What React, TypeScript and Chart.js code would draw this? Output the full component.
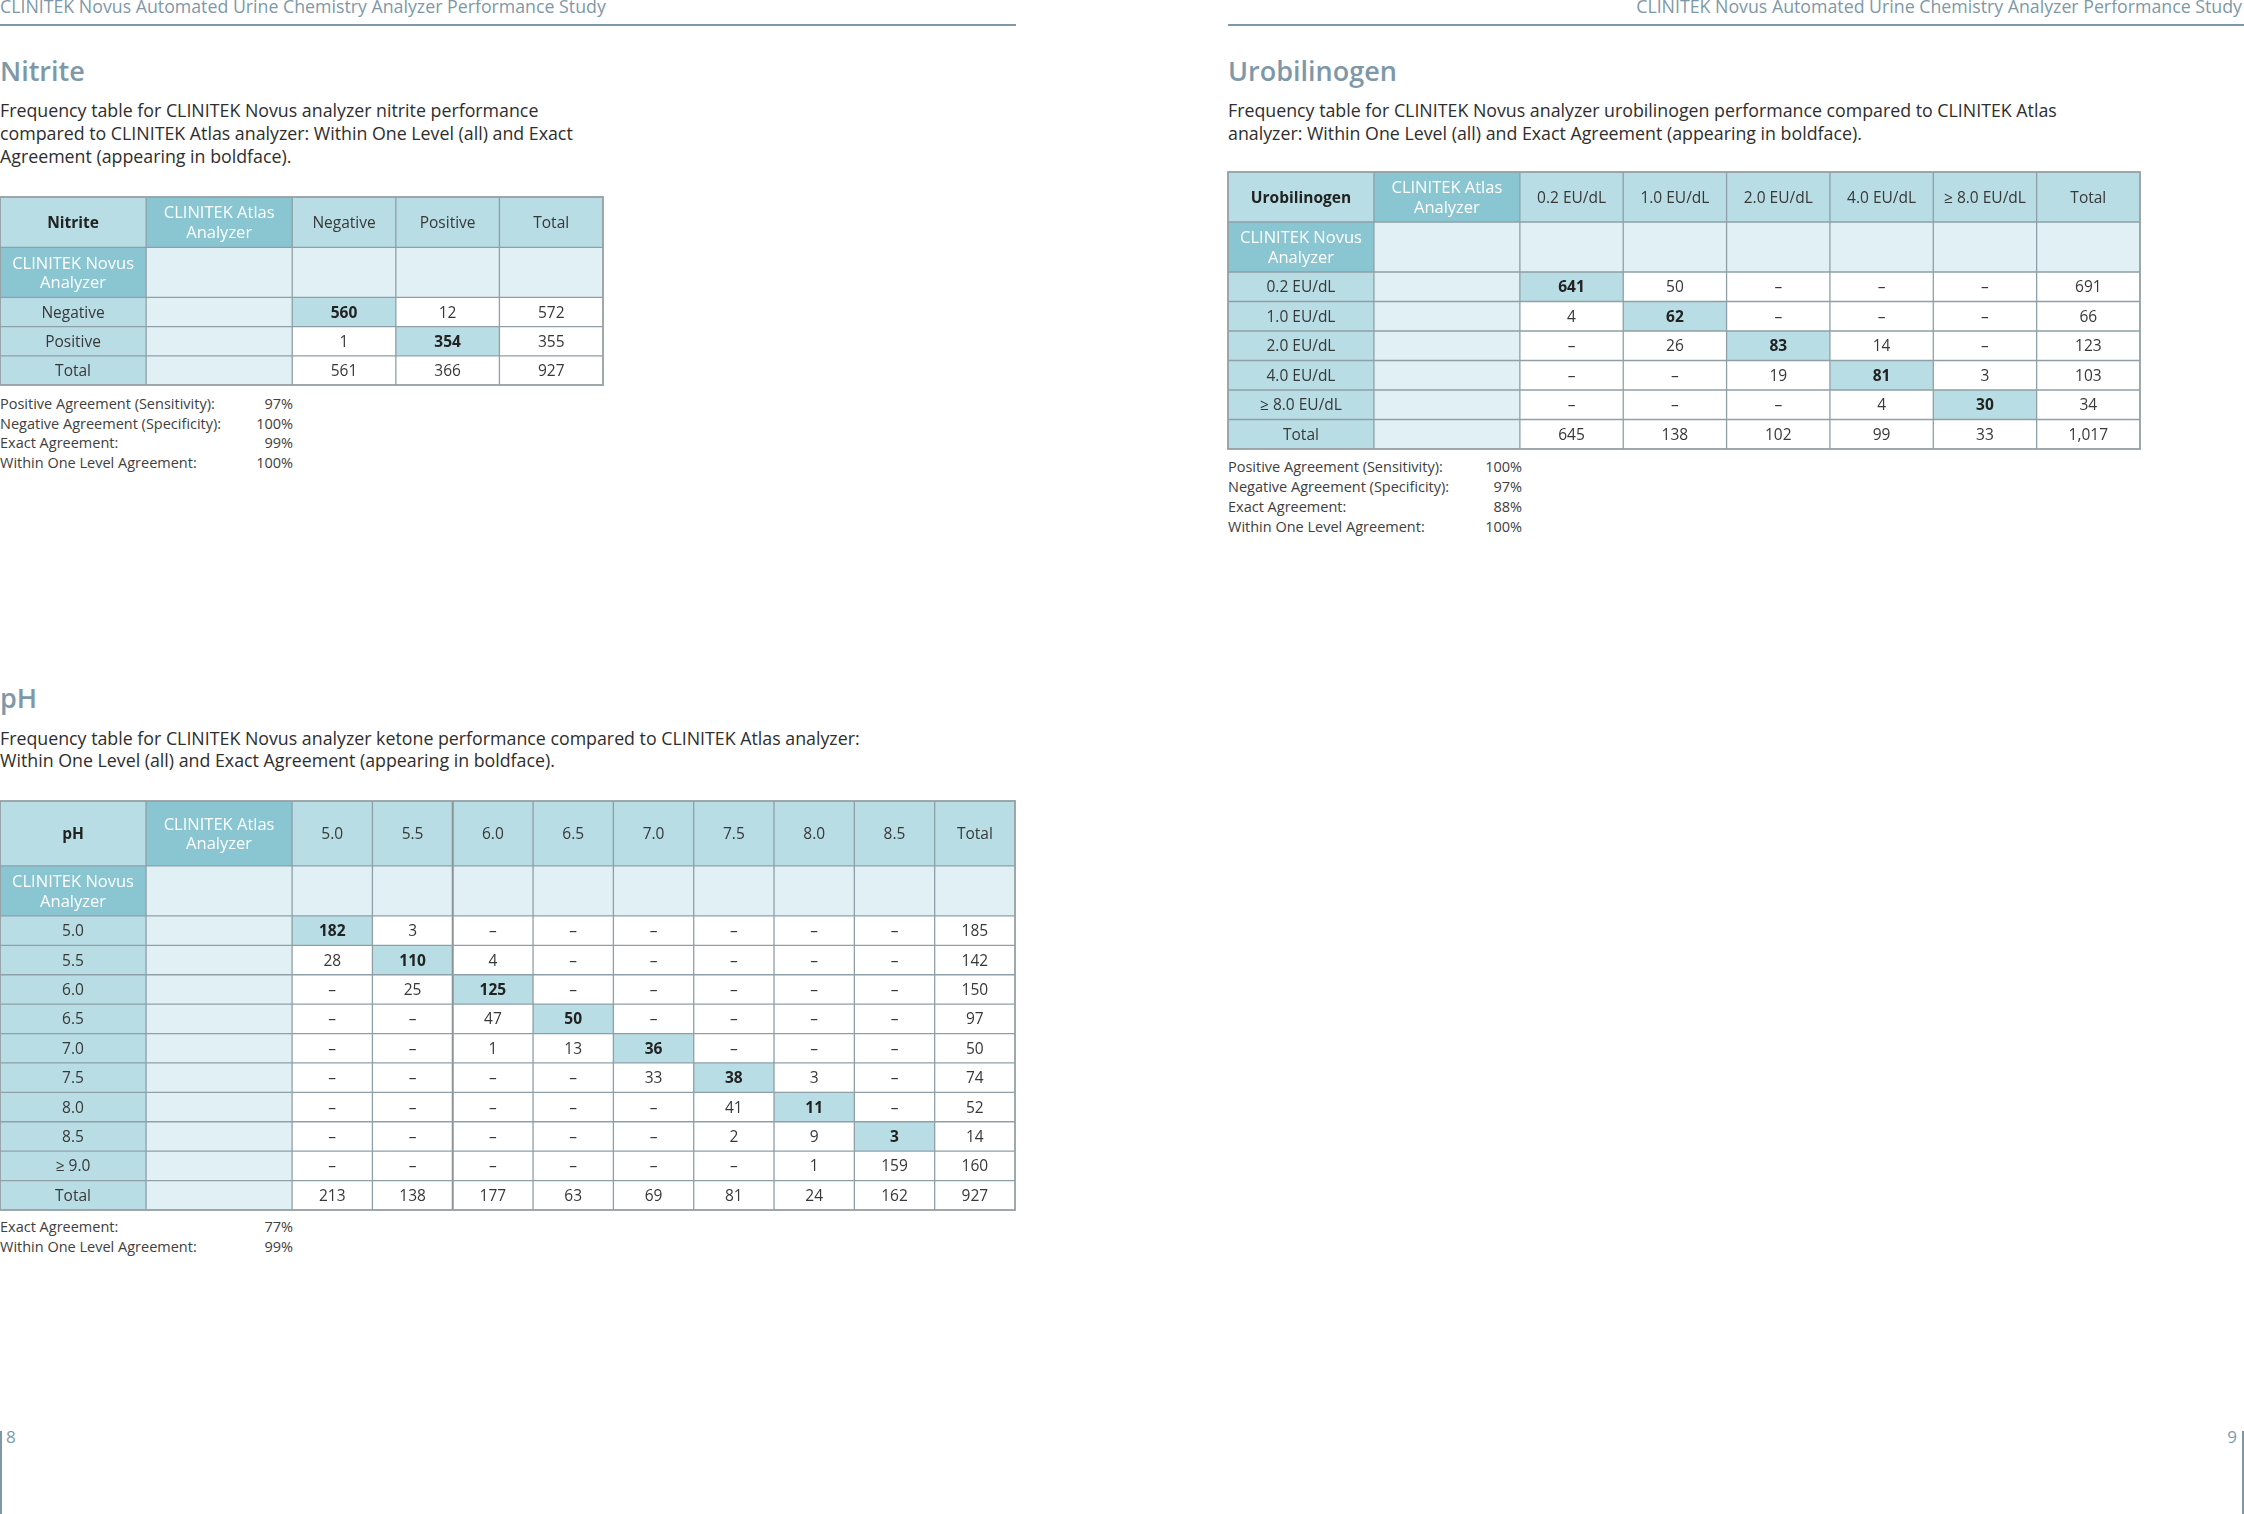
import React, { useEffect, useRef } from "react";
import { Chart, registerables } from "chart.js";

Chart.register(...registerables);

// ---------------- Data ----------------
const pageHeader = "CLINITEK Novus Automated Urine Chemistry Analyzer Performance Study";
const atlasLabel = "CLINITEK Atlas\nAnalyzer";
const novusLabel = "CLINITEK Novus\nAnalyzer";

const nitriteTitle = "Nitrite";
const nitriteDescription = [
  "Frequency table for CLINITEK Novus analyzer nitrite performance",
  "compared to CLINITEK Atlas analyzer: Within One Level (all) and Exact",
  "Agreement (appearing in boldface).",
];
const nitriteColumns = ["Negative", "Positive", "Total"];
const nitriteRows = ["Negative", "Positive", "Total"];
const nitriteValues: (number | null)[][] = [
  [560, 12, 572],
  [1, 354, 355],
  [561, 366, 927],
];
const nitriteStatLabels = [
  "Positive Agreement (Sensitivity):",
  "Negative Agreement (Specificity):",
  "Exact Agreement:",
  "Within One Level Agreement:",
];
const nitriteStatValues = ["97%", "100%", "99%", "100%"];

const urobilTitle = "Urobilinogen";
const urobilDescription = [
  "Frequency table for CLINITEK Novus analyzer urobilinogen performance compared to CLINITEK Atlas",
  "analyzer: Within One Level (all) and Exact Agreement (appearing in boldface).",
];
const urobilColumns = ["0.2 EU/dL", "1.0 EU/dL", "2.0 EU/dL", "4.0 EU/dL", "≥ 8.0 EU/dL", "Total"];
const urobilRows = ["0.2 EU/dL", "1.0 EU/dL", "2.0 EU/dL", "4.0 EU/dL", "≥ 8.0 EU/dL", "Total"];
const urobilValues: (number | null)[][] = [
  [641, 50, null, null, null, 691],
  [4, 62, null, null, null, 66],
  [null, 26, 83, 14, null, 123],
  [null, null, 19, 81, 3, 103],
  [null, null, null, 4, 30, 34],
  [645, 138, 102, 99, 33, 1017],
];
const urobilStatLabels = [
  "Positive Agreement (Sensitivity):",
  "Negative Agreement (Specificity):",
  "Exact Agreement:",
  "Within One Level Agreement:",
];
const urobilStatValues = ["100%", "97%", "88%", "100%"];

const phTitle = "pH";
const phDescription = [
  "Frequency table for CLINITEK Novus analyzer ketone performance compared to CLINITEK Atlas analyzer:",
  "Within One Level (all) and Exact Agreement (appearing in boldface).",
];
const phColumns = ["5.0", "5.5", "6.0", "6.5", "7.0", "7.5", "8.0", "8.5", "Total"];
const phRows = ["5.0", "5.5", "6.0", "6.5", "7.0", "7.5", "8.0", "8.5", "≥ 9.0", "Total"];
const phValues: (number | null)[][] = [
  [182, 3, null, null, null, null, null, null, 185],
  [28, 110, 4, null, null, null, null, null, 142],
  [null, 25, 125, null, null, null, null, null, 150],
  [null, null, 47, 50, null, null, null, null, 97],
  [null, null, 1, 13, 36, null, null, null, 50],
  [null, null, null, null, 33, 38, 3, null, 74],
  [null, null, null, null, null, 41, 11, null, 52],
  [null, null, null, null, null, 2, 9, 3, 14],
  [null, null, null, null, null, null, 1, 159, 160],
  [213, 138, 177, 63, 69, 81, 24, 162, 927],
];
const phStatLabels = ["Exact Agreement:", "Within One Level Agreement:"];
const phStatValues = ["77%", "99%"];

// ---------------- Styles ----------------
const FONT = '"Open Sans", "Noto Sans", sans-serif';
const C_TEAL = "#b8dde4";
const C_DARK = "#8ac6d2";
const C_LIGHT = "#e1f0f4";
const C_LINE = "#8e9fa7";
const C_OUTER = "#969fa4";
const C_TEXT = "#383838";
const C_BOLD = "#222222";
const C_ACCENT = "#7e98a8";
const CELL_FS = 15.5;
const WHITE_FS = 16.5;

type Layout = {
  left: number;
  top: number;
  labelW: number;
  dataW: number;
  headH: number;
  subH: number;
  rowH: number;
  splitAfter?: number;
};

type Cell = {
  x: number;
  y: number;
  x0: number;
  x1: number;
  y0: number;
  y1: number;
  text: string;
  bg: string;
  color: string;
  bold: boolean;
  fs: number;
};

const tablePlugin = {
  id: "freqTable",
  beforeDatasetsDraw(chart: any) {
    const { ctx } = chart;
    const xs = chart.scales.x;
    const ys = chart.scales.y;
    const cells: Cell[] = chart.data.datasets[0].data;
    const meta = chart.getDatasetMeta(0);
    const opts = chart.options.plugins.freqTable || {};
    ctx.save();
    cells.forEach((c) => {
      const px0 = xs.getPixelForValue(c.x0);
      const px1 = xs.getPixelForValue(c.x1);
      const py0 = ys.getPixelForValue(c.y0);
      const py1 = ys.getPixelForValue(c.y1);
      ctx.fillStyle = c.bg;
      ctx.fillRect(px0, py0, px1 - px0, py1 - py0);
    });
    const colEdges: number[] = opts.colEdges;
    const rowEdges: number[] = opts.rowEdges;
    const top = ys.getPixelForValue(rowEdges[0]);
    const bottom = ys.getPixelForValue(rowEdges[rowEdges.length - 1]);
    const left = xs.getPixelForValue(colEdges[0]);
    const right = xs.getPixelForValue(colEdges[colEdges.length - 1]);
    colEdges.forEach((e, i) => {
      if (i === 0 || i === colEdges.length - 1) return;
      const px = xs.getPixelForValue(e);
      ctx.beginPath();
      if (opts.splitEdge === i) {
        ctx.strokeStyle = "#8c9397";
        ctx.lineWidth = 2;
      } else {
        ctx.strokeStyle = C_LINE;
        ctx.lineWidth = 1.3;
      }
      ctx.moveTo(px, top);
      ctx.lineTo(px, bottom);
      ctx.stroke();
    });
    ctx.strokeStyle = C_LINE;
    ctx.lineWidth = 1.3;
    rowEdges.forEach((e, i) => {
      if (i === 0 || i === rowEdges.length - 1) return;
      const py = ys.getPixelForValue(e);
      ctx.beginPath();
      ctx.moveTo(left, py);
      ctx.lineTo(right, py);
      ctx.stroke();
    });
    ctx.strokeStyle = C_OUTER;
    ctx.lineWidth = 1.8;
    ctx.strokeRect(left, top, right - left, bottom - top);
    cells.forEach((c, i) => {
      if (!c.text) return;
      const el = meta.data[i];
      const lines = c.text.split("\n");
      ctx.font = `${c.bold ? "bold" : "normal"} ${c.fs}px ${FONT}`;
      ctx.fillStyle = c.color;
      ctx.textAlign = "center";
      ctx.textBaseline = "alphabetic";
      const spacing = 19.5;
      lines.forEach((ln, k) => {
        const cy = el.y + (k - (lines.length - 1) / 2) * spacing;
        ctx.fillText(ln, el.x, cy + 0.357 * c.fs);
      });
    });
    ctx.restore();
  },
};

function cumulative(arr: number[]): number[] {
  const out = [0];
  arr.forEach((v) => out.push(out[out.length - 1] + v));
  return out;
}

function fmt(v: number | null): string {
  return v === null ? "–" : v.toLocaleString("en-US");
}

function FreqTable(props: {
  corner: string;
  columns: string[];
  rows: string[];
  values: (number | null)[][];
  layout: Layout;
}) {
  const { corner, columns, rows, values, layout } = props;
  const ref = useRef<HTMLCanvasElement>(null);
  const PAD = 2;
  const colW = [layout.labelW, layout.labelW, ...columns.map(() => layout.dataW)];
  const rowH = [layout.headH, layout.subH, ...rows.map(() => layout.rowH)];
  const colEdges = cumulative(colW);
  const rowEdges = cumulative(rowH);
  const W = colEdges[colEdges.length - 1];
  const H = rowEdges[rowEdges.length - 1];
  const cw = Math.round(W + 2 * PAD);
  const ch = Math.round(H + 2 * PAD);

  useEffect(() => {
    if (!ref.current) return;
    const nC = colW.length;
    const nR = rowH.length;
    const cells: Cell[] = [];
    for (let r = 0; r < nR; r++) {
      for (let c = 0; c < nC; c++) {
        let text = "";
        let bg = "#ffffff";
        let color = C_TEXT;
        let bold = false;
        let fs = CELL_FS;
        if (r === 0) {
          if (c === 0) {
            text = corner;
            bg = C_TEAL;
            color = C_BOLD;
            bold = true;
          } else if (c === 1) {
            text = atlasLabel;
            bg = C_DARK;
            color = "#ffffff";
            fs = WHITE_FS;
          } else {
            text = columns[c - 2];
            bg = C_TEAL;
          }
        } else if (r === 1) {
          if (c === 0) {
            text = novusLabel;
            bg = C_DARK;
            color = "#ffffff";
            fs = WHITE_FS;
          } else {
            bg = C_LIGHT;
          }
        } else {
          const ri = r - 2;
          if (c === 0) {
            text = rows[ri];
            bg = C_TEAL;
          } else if (c === 1) {
            bg = C_LIGHT;
          } else {
            const ci = c - 2;
            text = fmt(values[ri][ci]);
            const diag = ri === ci && ri < rows.length - 1 && ci < columns.length - 1;
            if (diag) {
              bg = C_TEAL;
              bold = true;
              color = C_BOLD;
            }
          }
        }
        cells.push({
          x: (colEdges[c] + colEdges[c + 1]) / 2,
          y: (rowEdges[r] + rowEdges[r + 1]) / 2,
          x0: colEdges[c],
          x1: colEdges[c + 1],
          y0: rowEdges[r],
          y1: rowEdges[r + 1],
          text,
          bg,
          color,
          bold,
          fs,
        });
      }
    }
    const chart = new Chart(ref.current, {
      type: "scatter",
      data: {
        datasets: [
          {
            data: cells as any,
            pointRadius: 0,
            pointHoverRadius: 0,
            showLine: false,
          },
        ],
      },
      options: {
        animation: false,
        responsive: false,
        maintainAspectRatio: false,
        events: [],
        layout: { padding: PAD },
        plugins: {
          legend: { display: false },
          tooltip: { enabled: false },
          // @ts-ignore
          freqTable: {
            colEdges,
            rowEdges,
            splitEdge: layout.splitAfter !== undefined ? layout.splitAfter + 3 : undefined,
          },
        },
        scales: {
          x: { type: "linear", display: false, min: 0, max: W },
          y: { type: "linear", display: false, min: 0, max: H, reverse: true },
        },
      },
      plugins: [tablePlugin],
    });
    return () => chart.destroy();
  }, []);

  return (
    <canvas
      ref={ref}
      width={cw}
      height={ch}
      style={{ position: "absolute", left: layout.left - PAD, top: layout.top - PAD, width: cw, height: ch }}
    />
  );
}

function topFor(baseline: number, fs: number, lh: number) {
  return baseline - ((lh - 1.362 * fs) / 2 + 1.069 * fs);
}

function Heading({ left, baseline, text }: { left: number; baseline: number; text: string }) {
  const fs = 27;
  return (
    <div
      style={{
        position: "absolute",
        left,
        top: topFor(baseline, fs, fs),
        fontSize: fs,
        lineHeight: `${fs}px`,
        fontWeight: 600,
        color: C_ACCENT,
        whiteSpace: "nowrap",
      }}
    >
      {text}
    </div>
  );
}

function Description({ left, baseline, lines, lh }: { left: number; baseline: number; lines: string[]; lh: number }) {
  const fs = 17.8;
  return (
    <div
      style={{
        position: "absolute",
        left,
        top: topFor(baseline, fs, lh),
        fontSize: fs,
        lineHeight: `${lh}px`,
        color: "#2e2e2e",
        whiteSpace: "nowrap",
      }}
    >
      {lines.map((l, i) => (
        <div key={i}>{l}</div>
      ))}
    </div>
  );
}

function Stats(props: { left: number; baseline: number; valueRight: number; labels: string[]; values: string[]; step: number }) {
  const fs = 14.5;
  const lh = 20;
  return (
    <>
      {props.labels.map((l, i) => (
        <div
          key={i}
          style={{
            position: "absolute",
            left: props.left,
            top: topFor(props.baseline + i * props.step, fs, lh),
            width: props.valueRight - props.left,
            height: lh,
            fontSize: fs,
            lineHeight: `${lh}px`,
            color: "#404040",
            whiteSpace: "nowrap",
          }}
        >
          <span>{l}</span>
          <span style={{ position: "absolute", right: 0, top: 0 }}>{props.values[i]}</span>
        </div>
      ))}
    </>
  );
}

export default function App() {
  const hdrFs = 17.75;
  return (
    <div
      style={{
        position: "absolute",
        left: 0,
        top: 0,
        width: 2244,
        height: 1514,
        overflow: "hidden",
        background: "#ffffff",
        fontFamily: FONT,
      }}
    >
      <div
        style={{
          position: "absolute",
          left: 0,
          top: topFor(13.5, hdrFs, hdrFs),
          fontSize: hdrFs,
          lineHeight: `${hdrFs}px`,
          color: C_ACCENT,
          whiteSpace: "nowrap",
        }}
      >
        {pageHeader}
      </div>
      <div
        style={{
          position: "absolute",
          right: 2,
          top: topFor(13.5, hdrFs, hdrFs),
          fontSize: hdrFs,
          lineHeight: `${hdrFs}px`,
          color: C_ACCENT,
          whiteSpace: "nowrap",
        }}
      >
        {pageHeader}
      </div>
      <div style={{ position: "absolute", left: 0, top: 24, width: 1016, height: 1.5, background: C_ACCENT }} />
      <div style={{ position: "absolute", left: 1228, top: 24, width: 1016, height: 1.5, background: C_ACCENT }} />

      {/* Nitrite */}
      <Heading left={0} baseline={80.7} text={nitriteTitle} />
      <Description left={0} baseline={117.3} lines={nitriteDescription} lh={23} />
      <FreqTable
        corner={nitriteTitle}
        columns={nitriteColumns}
        rows={nitriteRows}
        values={nitriteValues}
        layout={{ left: 0, top: 197, labelW: 146, dataW: 103.5, headH: 50.5, subH: 50, rowH: 29.2 }}
      />
      <Stats left={0} baseline={409.5} valueRight={293} labels={nitriteStatLabels} values={nitriteStatValues} step={19.7} />

      {/* Urobilinogen */}
      <Heading left={1228} baseline={81} text={urobilTitle} />
      <Description left={1228} baseline={117.8} lines={urobilDescription} lh={23} />
      <FreqTable
        corner={urobilTitle}
        columns={urobilColumns}
        rows={urobilRows}
        values={urobilValues}
        layout={{ left: 1228, top: 172.3, labelW: 146, dataW: 103.4, headH: 50, subH: 50, rowH: 29.5 }}
      />
      <Stats left={1228} baseline={472.8} valueRight={1522} labels={urobilStatLabels} values={urobilStatValues} step={20} />

      {/* pH */}
      <Heading left={0} baseline={708.3} text={phTitle} />
      <Description left={0} baseline={745} lines={phDescription} lh={22.5} />
      <FreqTable
        corner={phTitle}
        columns={phColumns}
        rows={phRows}
        values={phValues}
        layout={{ left: 0, top: 800.7, labelW: 146, dataW: 80.3, headH: 65, subH: 50, rowH: 29.43, splitAfter: 1 }}
      />
      <Stats left={0} baseline={1232.8} valueRight={293} labels={phStatLabels} values={phStatValues} step={20} />

      {/* page numbers */}
      <div style={{ position: "absolute", left: 0, top: 1431, width: 1.8, height: 83, background: C_ACCENT }} />
      <div style={{ position: "absolute", left: 2242.3, top: 1431, width: 1.8, height: 83, background: C_ACCENT }} />
      <div
        style={{
          position: "absolute",
          left: 6,
          top: topFor(1442.7, 17, 17),
          fontSize: 17,
          lineHeight: "17px",
          color: "#7f9aae",
        }}
      >
        8
      </div>
      <div
        style={{
          position: "absolute",
          right: 2244 - 2237,
          top: topFor(1442.7, 17, 17),
          fontSize: 17,
          lineHeight: "17px",
          color: "#7f9aae",
        }}
      >
        9
      </div>
    </div>
  );
}
